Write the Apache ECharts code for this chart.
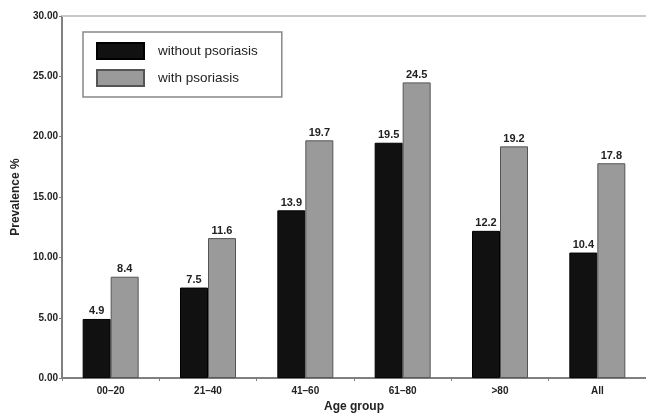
<!DOCTYPE html>
<html>
<head>
<meta charset="utf-8">
<script src="https://cdn.jsdelivr.net/npm/echarts@6/dist/echarts.min.js"></script>
<style>html,body{margin:0;padding:0;background:#fff;}#c{width:646px;height:418px;}</style>
</head>
<body>
<div id="c"></div>
<script>
var categories = ['00\u201320', '21\u201340', '41\u201360', '61\u201380', '>80', 'All'];
var withoutPsoriasis = [4.9, 7.5, 13.9, 19.5, 12.2, 10.4];
var withPsoriasis = [8.4, 11.6, 19.7, 24.5, 19.2, 17.8];
var yTicks = [0, 5, 10, 15, 20, 25, 30];

var chart = echarts.init(document.getElementById('c'), null, {renderer: 'canvas'});
var font = 'Arial, "Liberation Sans", sans-serif';
var labelStyle = {
  show: true, position: 'top', distance: 2,
  fontFamily: font, fontWeight: 'bold', fontSize: 11, color: '#222',
  formatter: function (p) { return p.value.toFixed(1); }
};
chart.setOption({
  animation: false,
  grid: {left: 62, right: 0, top: 16, bottom: 29},
  legend: {
    orient: 'vertical', left: 83, top: 32,
    padding: [10, 24, 10, 13],
    borderColor: '#888', borderWidth: 1.5, backgroundColor: '#fff',
    itemWidth: 47, itemHeight: 16, itemGap: 9,
    icon: 'rect',
    textStyle: {fontFamily: font, fontSize: 13.5, color: '#222', padding: [0, 0, 0, 9]},
    data: ['without psoriasis', 'with psoriasis']
  },
  xAxis: [{
    type: 'category', data: categories,
    name: 'Age group', nameLocation: 'middle', nameGap: 19,
    nameTextStyle: {fontFamily: font, fontWeight: 'bold', fontSize: 12, color: '#222'},
    axisLine: {lineStyle: {color: '#808080', width: 2}},
    axisTick: {show: true, length: 3, lineStyle: {color: '#808080'}},
    axisLabel: {fontFamily: font, fontWeight: 'bold', fontSize: 10, color: '#222', margin: 8}
  }, {
    type: 'category', data: categories, position: 'top',
    axisLine: {show: true, lineStyle: {color: '#c8c8c8', width: 2}},
    axisTick: {show: false}, axisLabel: {show: false}
  }],
  yAxis: {
    type: 'value', min: 0, max: 30, interval: 5,
    name: 'Prevalence %', nameLocation: 'middle', nameGap: 37, nameRotate: 90,
    nameTextStyle: {fontFamily: font, fontWeight: 'bold', fontSize: 12, color: '#222'},
    axisLine: {show: true, lineStyle: {color: '#808080', width: 2}},
    axisTick: {show: true, length: 3, lineStyle: {color: '#808080'}},
    splitLine: {show: false},
    axisLabel: {fontFamily: font, fontWeight: 'bold', fontSize: 10, color: '#222', margin: 4,
      formatter: function (v) { return v.toFixed(2); }}
  },
  series: [
    {name: 'without psoriasis', type: 'bar', data: withoutPsoriasis, barWidth: 28, barGap: '0%',
     itemStyle: {color: '#111', borderColor: '#000', borderWidth: 1}, label: labelStyle},
    {name: 'with psoriasis', type: 'bar', data: withPsoriasis, barWidth: 28,
     itemStyle: {color: '#9a9a9a', borderColor: '#555', borderWidth: 1}, label: labelStyle}
  ]
});
</script>
</body>
</html>
